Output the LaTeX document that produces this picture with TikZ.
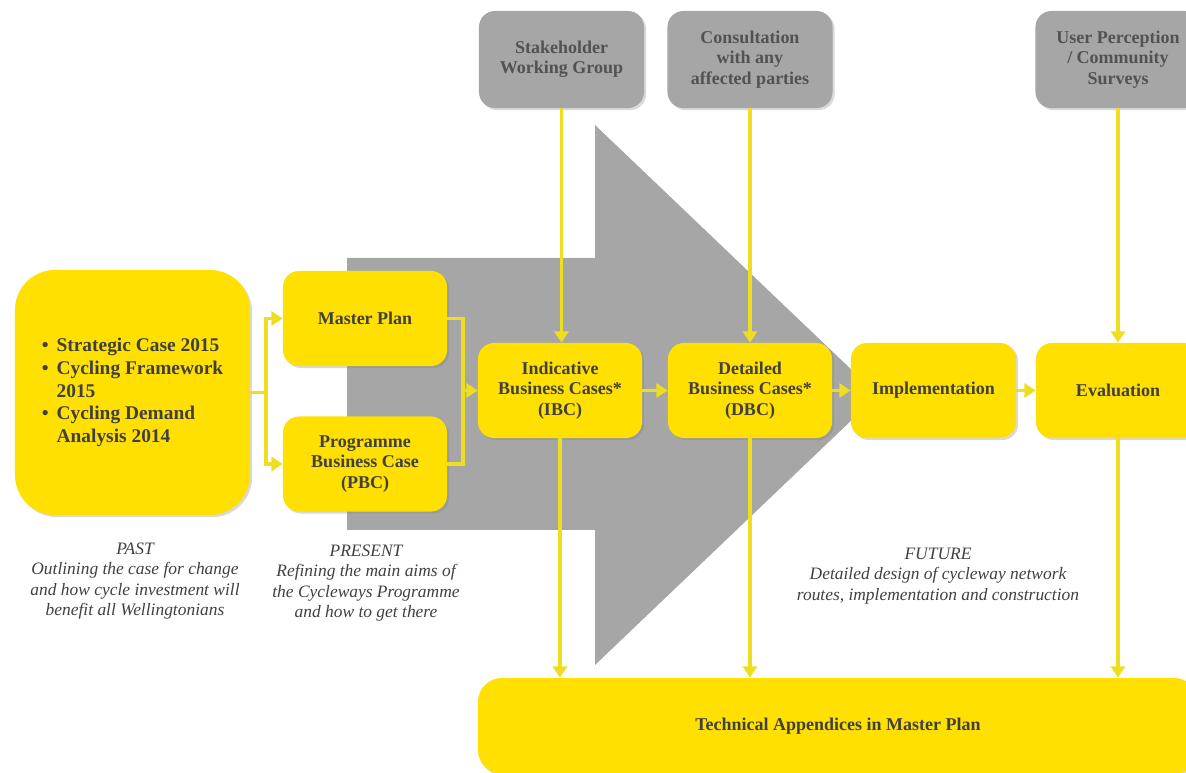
\documentclass[tikz,border=0pt]{standalone}
\usepackage{fontspec}
\setmainfont{Liberation Serif}
\usetikzlibrary{arrows.meta, positioning, shadows}

\definecolor{boxyellow}{RGB}{255,224,0}
\definecolor{lineyellow}{RGB}{238,222,34}
\definecolor{arrowgray}{RGB}{166,166,166}
\definecolor{textgray}{RGB}{64,64,64}

\begin{document}
\begin{tikzpicture}[x=0.025cm, y=-0.025cm,
    stagebox/.style={fill=boxyellow, rounded corners=0.4cm, minimum width=4.1cm, minimum height=2.375cm,
        align=center, text=textgray, font=\fontsize{12.8}{14.4}\selectfont\bfseries,
        drop shadow={opacity=0.3, shadow xshift=1.5pt, shadow yshift=-1.5pt}},
    inputbox/.style={stagebox, fill=arrowgray, text=black!68, minimum width=4.125cm, minimum height=2.425cm},
    flow/.style={draw=lineyellow, line width=2.6pt},
    flowarr/.style={flow, -{Triangle[width=10pt, length=8pt]}},
    note/.style={align=center, text=textgray, font=\fontsize{12.4}{14.6}\selectfont\itshape}]
    \useasboundingbox (0,0) rectangle (1186,773);

    % big grey arrow behind the stages
    \fill[arrowgray] (347,258) -- (595,258) -- (595,125) -- (878,395) -- (595,665) -- (595,530) -- (347,530) -- cycle;

    \node[stagebox, rounded corners=1cm, minimum width=5.875cm, minimum height=6.125cm,
        font=\fontsize{13.8}{16.2}\selectfont\bfseries] (past) at (132.5,392.5) {%
        \begin{tabular}{@{}l@{\hspace{0.2cm}}l@{}}
            \textbullet & Strategic Case 2015\\
            \textbullet & Cycling Framework\\
                        & 2015\\
            \textbullet & Cycling Demand\\
                        & Analysis 2014
        \end{tabular}};
    \node[stagebox] (master) at (365,318.5) {Master Plan};
    \node[stagebox] (pbc) at (365,464) {Programme\\ Business Case\\ (PBC)};
    \node[stagebox] (ibc) at (560,390.5) {Indicative\\ Business Cases*\\ (IBC)};
    \node[stagebox] (dbc) at (750,390.5) {Detailed\\ Business Cases*\\ (DBC)};
    \node[stagebox, minimum width=4.125cm] (impl) at (933.5,390.5) {Implementation};
    \node[stagebox] (eval) at (1118,390.5) {Evaluation};

    \node[inputbox] (stake) at (561.5,59.5) {Stakeholder\\ Working Group};
    \node[inputbox] (consult) at (750,59.5) {Consultation\\ with any\\ affected parties};
    \node[inputbox] (survey) at (1118,59.5) {User Perception\\ / Community\\ Surveys};

    \node[stagebox, rounded corners=0.6cm, minimum width=18cm, minimum height=2.4cm] (appx) at (838,726)
        {Technical Appendices in Master Plan};

    \node[note] (pastnote) at (135,581) {PAST\\ Outlining the case for change\\ and how cycle investment will\\ benefit all Wellingtonians};
    \node[note] (presnote) at (366,583) {PRESENT\\ Refining the main aims of\\ the Cycleways Programme\\ and how to get there};
    \node[note] (futnote) at (938,576) {FUTURE\\ Detailed design of cycleway network\\ routes, implementation and construction};

    % connectors
    \coordinate (split) at (266,392.5);
    \coordinate (merge) at (463,390.5);
    \draw[flow] (past.east) -- (split);
    \draw[flowarr] (split) |- (master.west);
    \draw[flowarr] (split) |- (pbc.west);
    \draw[flow] (master.east) -| (merge);
    \draw[flow] (pbc.east) -| (merge);
    \draw[flowarr] (merge) -- (ibc.west);
    \draw[flowarr] (ibc) -- (dbc);
    \draw[flowarr] (dbc) -- (impl);
    \draw[flowarr] (impl) -- (eval);

    \draw[flowarr] (stake.south) -- (stake.south |- ibc.north);
    \draw[flowarr] (consult.south) -- (consult.south |- dbc.north);
    \draw[flowarr] (survey.south) -- (survey.south |- eval.north);
    \draw[flowarr] (ibc.south) -- (ibc.south |- appx.north);
    \draw[flowarr] (dbc.south) -- (dbc.south |- appx.north);
    \draw[flowarr] (eval.south) -- (eval.south |- appx.north);
\end{tikzpicture}
\end{document}
